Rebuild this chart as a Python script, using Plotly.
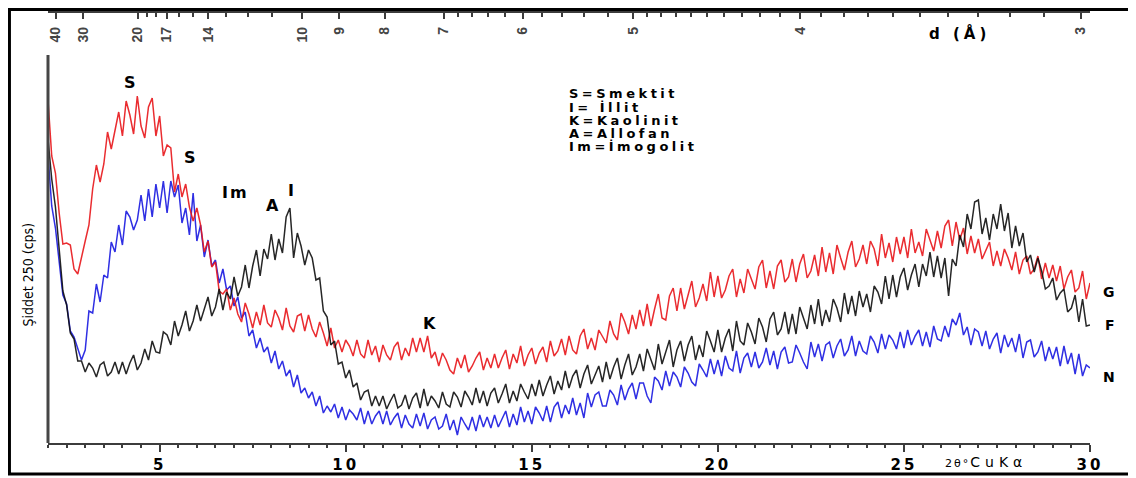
import math
import plotly.graph_objects as go

# 2-theta grid (degrees), 0.1 step from 2.0 to 30.0
two_theta = [round(2.0 + 0.1 * i, 1) for i in range(281)]

# Intensities (arbitrary cps scale)
G_red = [
    343, 287, 270, 230, 199, 200, 198, 174, 169, 187,
    202, 218, 254, 278, 261, 279, 311, 294, 313, 331,
    307, 342, 328, 309, 347, 317, 305, 336, 345, 307,
    327, 287, 298, 295, 251, 269, 246, 259, 236, 222,
    235, 218, 191, 202, 176, 181, 152, 149, 154, 133,
    145, 129, 121, 140, 129, 115, 131, 118, 138, 120,
    116, 133, 125, 113, 135, 117, 111, 127, 129, 112,
    128, 114, 106, 121, 110, 97, 115, 95, 103, 91,
    103, 97, 87, 103, 89, 85, 103, 88, 97, 81,
    98, 88, 83, 96, 101, 83, 95, 87, 105, 91,
    105, 91, 107, 85, 91, 77, 90, 83, 73, 69,
    85, 75, 88, 71, 77, 85, 91, 73, 85, 75,
    89, 75, 85, 93, 74, 89, 80, 97, 77, 88,
    95, 79, 90, 96, 81, 102, 87, 92, 104, 88,
    107, 93, 89, 107, 114, 94, 105, 93, 113, 107,
    100, 122, 109, 103, 130, 121, 109, 128, 114, 133,
    117, 139, 117, 134, 149, 125, 123, 147, 155, 132,
    155, 134, 149, 162, 136, 145, 159, 142, 171, 146,
    167, 145, 153, 167, 174, 146, 164, 150, 174, 164,
    154, 176, 183, 155, 172, 154, 177, 183, 161, 166,
    184, 161, 179, 189, 165, 172, 188, 167, 196, 171,
    190, 169, 198, 185, 173, 191, 202, 176, 184, 198,
    179, 202, 194, 177, 209, 185, 200, 181, 206, 189,
    206, 185, 214, 190, 201, 187, 214, 203, 192, 212,
    195, 217, 223, 197, 221, 203, 215, 189, 207, 190,
    204, 184, 193, 201, 177, 192, 177, 194, 185, 173,
    191, 169, 183, 187, 169, 174, 187, 164, 180, 165,
    178, 162, 177, 154, 166, 173, 151, 155, 172, 144,
    160,
]

F_black = [
    304, 264, 236, 191, 152, 138, 110, 104, 82, 82,
    71, 80, 75, 66, 78, 81, 67, 71, 81, 69,
    81, 69, 80, 88, 73, 80, 94, 83, 102, 91,
    90, 111, 108, 98, 122, 107, 118, 132, 112, 122,
    138, 122, 135, 146, 127, 136, 154, 133, 151, 144,
    166, 147, 156, 178, 155, 177, 193, 167, 194, 184,
    209, 183, 204, 190, 226, 235, 185, 210, 197, 178,
    193, 185, 163, 165, 132, 126, 98, 102, 79, 81,
    65, 73, 56, 60, 43, 51, 53, 37, 47, 37,
    47, 34, 42, 49, 35, 38, 48, 34, 45, 50,
    35, 54, 37, 47, 42, 35, 51, 39, 36, 51,
    46, 36, 52, 46, 38, 55, 40, 52, 37, 50,
    55, 40, 49, 59, 40, 52, 42, 59, 51, 44,
    59, 47, 63, 47, 58, 67, 49, 62, 53, 72,
    55, 67, 73, 55, 69, 78, 59, 69, 77, 61,
    81, 64, 76, 85, 64, 78, 89, 68, 76, 89,
    72, 94, 84, 73, 99, 79, 91, 103, 76, 93,
    102, 82, 98, 107, 83, 98, 86, 112, 102, 91,
    113, 91, 105, 114, 92, 122, 102, 98, 120, 111,
    99, 125, 116, 101, 124, 131, 108, 114, 131, 109,
    129, 109, 136, 125, 114, 138, 119, 144, 117, 133,
    121, 144, 135, 121, 150, 129, 147, 127, 152, 136,
    149, 131, 157, 151, 139, 167, 144, 168, 146, 166,
    175, 153, 168, 179, 156, 179, 167, 191, 166, 187,
    165, 185, 147, 184, 177, 208, 196, 229, 214, 241,
    243, 209, 225, 203, 229, 214, 239, 212, 230, 195,
    217, 197, 210, 181, 188, 171, 185, 172, 154, 157,
    165, 143, 150, 154, 131, 135, 148, 121, 144, 117,
    118,
]

N_blue = [
    288, 237, 215, 180, 148, 139, 112, 106, 94, 83,
    93, 132, 130, 159, 141, 168, 165, 201, 191, 218,
    198, 232, 226, 213, 223, 248, 222, 254, 226, 259,
    235, 262, 230, 262, 246, 258, 220, 235, 208, 250,
    202, 218, 186, 203, 177, 183, 160, 174, 153, 157,
    137, 146, 125, 131, 107, 113, 95, 105, 91, 96,
    80, 92, 74, 82, 67, 73, 56, 68, 50, 55,
    45, 51, 37, 47, 30, 37, 31, 39, 25, 36,
    23, 33, 29, 23, 35, 19, 32, 19, 27, 32,
    19, 32, 18, 25, 30, 15, 28, 19, 15, 29,
    17, 30, 14, 23, 26, 14, 17, 29, 13, 23,
    8, 26, 19, 13, 26, 12, 28, 16, 26, 15,
    28, 16, 24, 32, 16, 29, 18, 36, 21, 32,
    19, 36, 30, 22, 37, 21, 36, 41, 25, 38,
    29, 45, 28, 40, 25, 50, 36, 48, 51, 37,
    37, 53, 48, 38, 58, 43, 54, 60, 44, 60,
    60, 47, 40, 66, 62, 53, 72, 57, 71, 66,
    56, 76, 70, 61, 57, 79, 73, 66, 84, 69,
    83, 67, 87, 75, 72, 92, 70, 85, 90, 76,
    91, 75, 81, 95, 78, 92, 74, 91, 96, 80,
    81, 98, 90, 81, 74, 101, 86, 99, 82, 98,
    101, 85, 97, 104, 87, 93, 107, 87, 102, 92,
    89, 107, 101, 90, 109, 94, 108, 103, 94, 111,
    95, 113, 98, 107, 113, 97, 111, 96, 117, 104,
    102, 117, 106, 124, 118, 130, 108, 116, 98, 114,
    111, 97, 112, 94, 104, 110, 90, 108, 96, 105,
    91, 109, 85, 101, 103, 86, 91, 102, 82, 96,
    84, 96, 77, 97, 79, 90, 69, 89, 67, 78,
    75,
]

# d-spacing (Angstrom) tick labels on the top axis
d_major = [40, 30, 20, 17, 14, 10, 9, 8, 7, 6, 5, 4, 3]
d_minor = [19, 18, 16, 15, 13, 12, 11,
           6.8, 6.6, 6.4, 6.2, 5.8, 5.6, 5.4, 5.2,
           4.9, 4.8, 4.7, 4.6, 4.5, 4.4, 4.3, 4.2, 4.1,
           3.9, 3.8, 3.7, 3.6, 3.5, 3.4, 3.3, 3.2, 3.1]
WAVELENGTH = 1.5406  # Cu K-alpha

bottom_ticks = [5, 10, 15, 20, 25, 30]

peak_labels = ["S", "S", "Im", "A", "I", "K"]
peak_x = [4.2, 5.82, 7.05, 8.02, 8.53, 12.24]
peak_y = [361, 286, 251, 238, 253, 120]

sample_names = ["G", "F", "N"]
sample_y = [151, 118, 66]

legend_lines = ["S=Smektit", "I= İllit", "K=Kaolinit", "A=Allofan", "Im=İmogolit"]
legend_y = [350, 336, 323, 310, 297]


def d_to_2theta(d):
    return 2.0 * math.degrees(math.asin(WAVELENGTH / (2.0 * d)))


def wide(text, ls):
    return "<span style='letter-spacing:%gpx'>%s</span>" % (ls, text)


FONT = "DejaVu Sans, Arial, sans-serif"
AX = "rgb(60,60,60)"

fig = go.Figure()
fig.add_trace(go.Scatter(x=two_theta, y=N_blue, mode="lines",
                         line=dict(color="rgb(25,25,225)", width=1.5), opacity=0.9))
fig.add_trace(go.Scatter(x=two_theta, y=G_red, mode="lines",
                         line=dict(color="rgb(232,22,26)", width=1.5), opacity=0.9))
fig.add_trace(go.Scatter(x=two_theta, y=F_black, mode="lines",
                         line=dict(color="rgb(15,15,15)", width=1.5), opacity=0.9))
# invisible traces to activate the overlaying top axes
fig.add_trace(go.Scatter(x=[2, 30], y=[0, 0], xaxis="x2", mode="lines",
                         line=dict(width=0), hoverinfo="skip"))
fig.add_trace(go.Scatter(x=[2, 30], y=[0, 0], xaxis="x3", mode="lines",
                         line=dict(width=0), hoverinfo="skip"))

annotations = []
for t, x, y in zip(peak_labels, peak_x, peak_y):
    annotations.append(dict(x=x, y=y, xref="x", yref="y", text=wide(t, 2) if len(t) > 1 else t,
                            showarrow=False,
                            font=dict(size=16, color="black", family=FONT, weight="bold")))
for t, y in zip(sample_names, sample_y):
    annotations.append(dict(x=1.026, y=y, xref="paper", yref="y", text=t, showarrow=False,
                            font=dict(size=14, color="black", family=FONT, weight="bold")))
for t, y in zip(legend_lines, legend_y):
    annotations.append(dict(x=15.95, y=y, xref="x", yref="y", xanchor="left", yanchor="middle",
                            text=wide(t, 3.5), showarrow=False,
                            font=dict(size=13, color="black", family=FONT, weight="bold")))
annotations.append(dict(x=26.5, y=410, xref="x", yref="y", text=wide("d (Å)", 4), showarrow=False,
                        font=dict(size=15, color="black", family=FONT, weight="bold")))
annotations.append(dict(x=27.2, y=-0.068, xref="x", yref="paper",
                        text="<span style='font-size:11px;letter-spacing:2px'>2θ°</span>"
                             + wide("CuKα", 5), showarrow=False,
                        font=dict(size=14, color="black", family=FONT)))
annotations.append(dict(x=-0.0288, y=0.392, xref="paper", yref="paper", text="Şiddet 250 (cps)",
                        textangle=-90, showarrow=False,
                        font=dict(size=14, color="black",
                                  family="DejaVu Sans Condensed, DejaVu Sans, sans-serif")))

shapes = [
    dict(type="line", xref="paper", yref="y", x0=0, x1=0, y0=0, y1=388,
         line=dict(color="rgb(70,70,70)", width=3)),
    dict(type="rect", xref="paper", yref="paper", x0=-0.0370, x1=1.0393, y0=-0.0721, y1=1.0081,
         line=dict(color="black", width=3)),
]

fig.update_layout(
    width=1136, height=478,
    margin=dict(l=40, r=54, t=5, b=43),
    paper_bgcolor="white", plot_bgcolor="white",
    showlegend=False,
    font=dict(family=FONT, color="black"),
    xaxis=dict(range=[2, 30], tickvals=bottom_ticks,
               ticktext=[wide(str(v), 3) for v in bottom_ticks],
               showgrid=False, zeroline=False,
               showline=True, linecolor=AX, linewidth=2,
               ticks="outside", ticklen=7, tickwidth=2, tickcolor=AX,
               tickfont=dict(size=15, family=FONT, weight="bold"),
               minor=dict(dtick=0.5, ticks="outside", ticklen=3, tickwidth=1.5, tickcolor=AX)),
    xaxis2=dict(range=[2, 30], overlaying="x", side="top", anchor="y",
                tickvals=[d_to_2theta(d) for d in d_major],
                ticktext=[str(d) for d in d_major],
                tickangle=-90, ticks="inside", ticklen=6, tickwidth=2, tickcolor=AX,
                ticklabelposition="inside", ticklabeloverflow="allow",
                showline=True, linecolor=AX, linewidth=2,
                showgrid=False, zeroline=False,
                tickfont=dict(size=14, family="Liberation Sans, Arial, sans-serif", weight="bold")),
    xaxis3=dict(range=[2, 30], overlaying="x", side="top", anchor="y",
                tickvals=[d_to_2theta(d) for d in d_minor], showticklabels=False,
                ticks="inside", ticklen=4, tickwidth=2, tickcolor=AX,
                showline=False, showgrid=False, zeroline=False),
    yaxis=dict(range=[0, 430], showticklabels=False, showgrid=False, zeroline=False,
               showline=False, ticks=""),
    annotations=annotations,
    shapes=shapes,
)

fig.write_html("out.html")
